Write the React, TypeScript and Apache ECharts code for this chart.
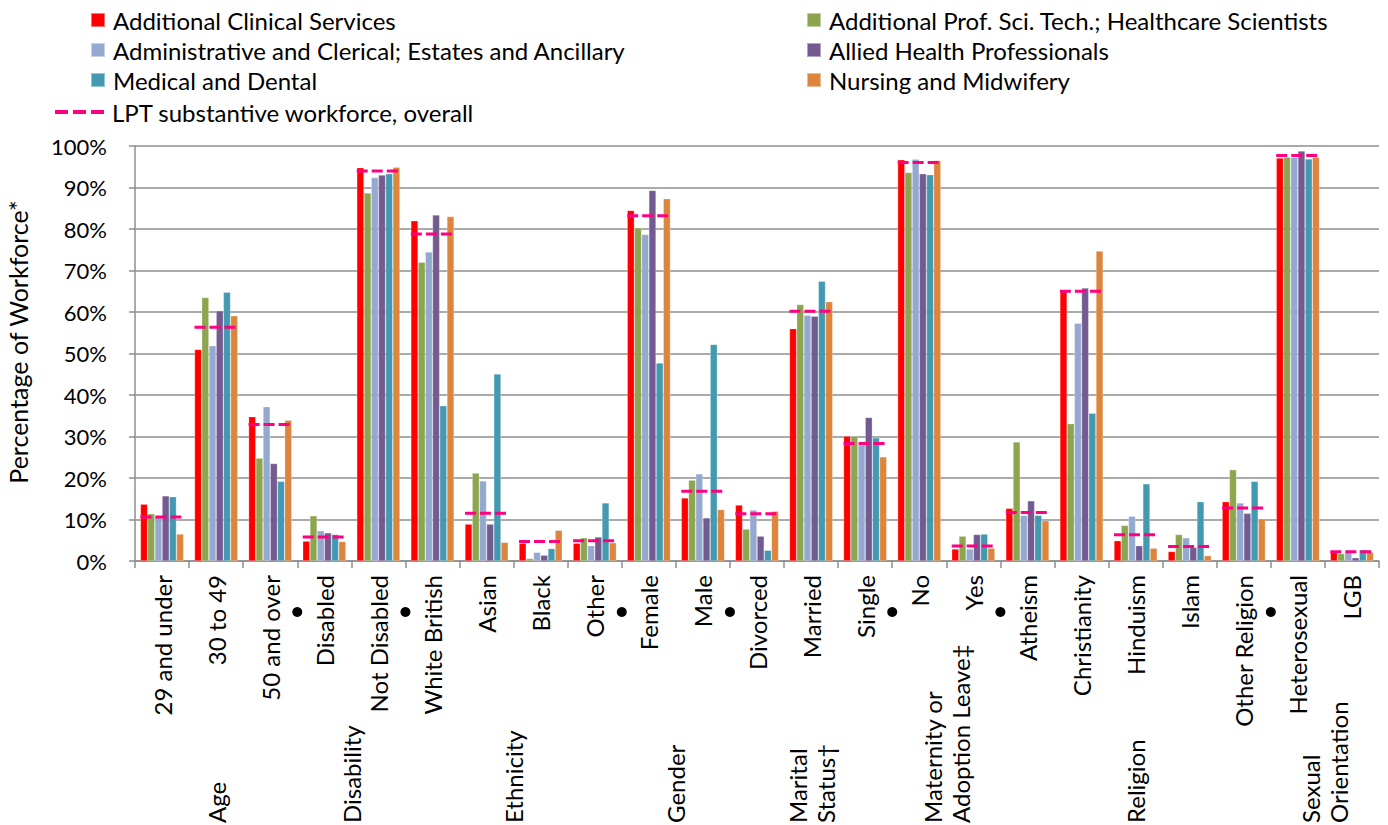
import React, { useEffect, useRef } from "react";
import * as echarts from "echarts";

// Workforce composition by staff group, per equality characteristic
const categories = [
  "29 and under", "30 to 49", "50 and over",
  "Disabled", "Not Disabled",
  "White British", "Asian", "Black", "Other",
  "Female", "Male",
  "Divorced", "Married", "Single",
  "No", "Yes",
  "Atheism", "Christianity", "Hinduism", "Islam", "Other Religion",
  "Heterosexual", "LGB",
];

const groupNames = [
  "Age", "Disability", "Ethnicity", "Gender", "Marital\nStatus†",
  "Maternity or\nAdoption Leave‡", "Religion", "Sexual\nOrientation",
];
const groupSizes = [3, 2, 4, 2, 3, 2, 5, 2];

const additionalClinical = [13.7, 51.0, 34.8, 4.8, 94.8, 82.0, 8.9, 4.3, 4.3, 84.5, 15.2, 13.5, 56.0, 30.1, 96.7, 2.9, 12.7, 64.9, 4.9, 2.3, 14.3, 97.1, 2.3];
const additionalProfSci = [11.4, 63.5, 24.8, 10.9, 88.7, 72.0, 21.2, 0.6, 5.6, 80.3, 19.5, 7.7, 61.8, 30.1, 93.6, 6.0, 28.7, 33.1, 8.6, 6.4, 22.0, 97.3, 1.8];
const adminClerical = [10.8, 51.9, 37.2, 7.3, 92.4, 74.5, 19.3, 2.1, 3.7, 78.7, 21.0, 12.3, 59.2, 28.0, 96.8, 2.9, 11.0, 57.3, 10.8, 5.6, 14.0, 97.3, 2.1];
const alliedHealth = [15.7, 60.3, 23.5, 6.8, 93.0, 83.4, 8.9, 1.4, 5.8, 89.3, 10.4, 6.0, 59.0, 34.6, 93.3, 6.4, 14.5, 65.8, 3.7, 3.3, 11.5, 98.8, 0.8];
const medicalDental = [15.5, 64.8, 19.2, 6.4, 93.3, 37.4, 45.1, 3.0, 14.0, 47.7, 52.2, 2.6, 67.4, 29.7, 93.1, 6.5, 11.0, 35.6, 18.6, 14.3, 19.2, 96.9, 2.7];
const nursingMidwifery = [6.5, 59.1, 33.9, 4.7, 94.9, 83.0, 4.5, 7.4, 4.4, 87.3, 12.4, 12.0, 62.5, 25.1, 96.5, 3.1, 9.7, 74.7, 3.1, 1.3, 10.2, 97.3, 2.1];
const lptOverall = [10.6, 56.3, 32.9, 5.8, 94.0, 78.8, 11.5, 4.7, 4.9, 83.2, 16.8, 11.4, 60.2, 28.3, 96.0, 3.6, 11.7, 65.0, 6.3, 3.5, 12.8, 97.7, 2.2];

const yTicks = [0, 10, 20, 30, 40, 50, 60, 70, 80, 90, 100];

const FONT = "Lato, 'Open Sans', sans-serif";
const FS = 24;
const PINK = "#FF0080";
const LPT_NAME = "LPT substantive workforce, overall";

const barSeries = [
  { name: "Additional Clinical Services", color: "#FF0000", data: additionalClinical },
  { name: "Additional Prof. Sci. Tech.; Healthcare Scientists", color: "#8BA64F", data: additionalProfSci },
  { name: "Administrative and Clerical; Estates and Ancillary", color: "#95A9D0", data: adminClerical },
  { name: "Allied Health Professionals", color: "#735A91", data: alliedHealth },
  { name: "Medical and Dental", color: "#4399B0", data: medicalDental },
  { name: "Nursing and Midwifery", color: "#DD843D", data: nursingMidwifery },
];

export default function App() {
  const ref = useRef<HTMLDivElement>(null);

  useEffect(() => {
    if (!ref.current) return;
    const chart = echarts.init(ref.current, null, { renderer: "svg" });

    const legendText = { fontFamily: FONT, fontSize: FS, color: "#000", lineHeight: 24, padding: [0, 0, 0, 3] };

    chart.setOption({
      animation: false,
      backgroundColor: "#fff",
      textStyle: { fontFamily: FONT },
      grid: { left: 135, right: 9, top: 146, bottom: 264 },
      legend: [
        {
          orient: "vertical", left: 90, top: 8, padding: 0, itemGap: 6, itemWidth: 14, itemHeight: 14,
          selectedMode: false, textStyle: legendText,
          data: [barSeries[0].name, barSeries[2].name, barSeries[4].name].map((n) => ({ name: n, icon: "rect" })),
        },
        {
          orient: "vertical", left: 806, top: 8, padding: 0, itemGap: 6, itemWidth: 14, itemHeight: 14,
          selectedMode: false, textStyle: legendText,
          data: [barSeries[1].name, barSeries[3].name, barSeries[5].name].map((n) => ({ name: n, icon: "rect" })),
        },
        {
          orient: "vertical", left: 55, top: 100, padding: 0, itemWidth: 49, itemHeight: 4,
          selectedMode: false, textStyle: legendText,
          data: [{ name: LPT_NAME, icon: "path://M0,0h13v4h-13z M18,0h13v4h-13z M36,0h13v4h-13z", itemStyle: { color: PINK } }],
        },
      ],
      xAxis: {
        type: "category",
        data: categories,
        axisLine: { lineStyle: { color: "#8E8E8E", width: 1.5 } },
        axisTick: { show: true, interval: 0, length: 7, lineStyle: { color: "#8E8E8E", width: 1.5 } },
        axisLabel: { interval: 0, rotate: 90, margin: 14, fontSize: FS, fontFamily: FONT, color: "#000" },
      },
      yAxis: {
        type: "value",
        min: yTicks[0],
        max: yTicks[yTicks.length - 1],
        interval: 10,
        axisLine: { show: true, lineStyle: { color: "#8E8E8E", width: 1.5 } },
        axisTick: { show: true, length: 6, lineStyle: { color: "#8E8E8E", width: 1.5 } },
        axisLabel: { formatter: "{value}%", margin: 28, fontSize: 22, fontFamily: FONT, color: "#000" },
        splitLine: { show: true, lineStyle: { color: "#8E8E8E", width: 1.5 } },
      },
      series: [
        ...barSeries.map((s) => ({
          type: "bar",
          name: s.name,
          data: s.data,
          barGap: "0%",
          barCategoryGap: "20%",
          itemStyle: { color: s.color, borderColor: "rgba(255,255,255,0.45)", borderWidth: 0.6 },
        })),
        {
          type: "custom",
          name: LPT_NAME,
          z: 10,
          itemStyle: { color: PINK },
          encode: { x: 0, y: 1 },
          data: lptOverall.map((v, i) => [i, v]),
          renderItem: (_params: any, api: any) => {
            const c = api.coord([api.value(0), api.value(1)]);
            const w = api.size([1, 0])[0] * 0.8;
            return {
              type: "line",
              shape: { x1: c[0] - w / 2, y1: c[1], x2: c[0] + w / 2, y2: c[1] },
              style: { stroke: PINK, lineWidth: 3, lineDash: [11, 4] },
            };
          },
        },
      ],
    });

    // Second-level category labels and group separators, placed from the axis scale
    const px = (i: number) => chart.convertToPixel({ xAxisIndex: 0 }, categories[i]) as number;
    const band = px(1) - px(0);
    const graphics: any[] = [];
    let start = 0;
    groupNames.forEach((g, gi) => {
      const end = start + groupSizes[gi] - 1;
      const left = px(start) - band / 2;
      const right = px(end) + band / 2;
      graphics.push({
        type: "text",
        x: (left + right) / 2,
        y: 823,
        rotation: Math.PI / 2,
        style: { text: g, fontFamily: FONT, fontSize: FS, fill: "#000", align: "left", verticalAlign: "middle", lineHeight: 28 },
      });
      if (gi > 0) {
        graphics.push({ type: "circle", shape: { cx: left, cy: 612, r: 5 }, style: { fill: "#000" } });
      }
      start = end + 1;
    });
    graphics.push({
      type: "text",
      x: 18,
      y: 342,
      rotation: Math.PI / 2,
      style: { text: "Percentage of Workforce*", fontFamily: FONT, fontSize: 25, fill: "#000", align: "center", verticalAlign: "middle" },
    });
    chart.setOption({ graphic: graphics });

    return () => chart.dispose();
  }, []);

  return (
    <div
      ref={ref}
      style={{ position: "absolute", left: 0, top: 0, width: 1388, height: 825 }}
    />
  );
}
